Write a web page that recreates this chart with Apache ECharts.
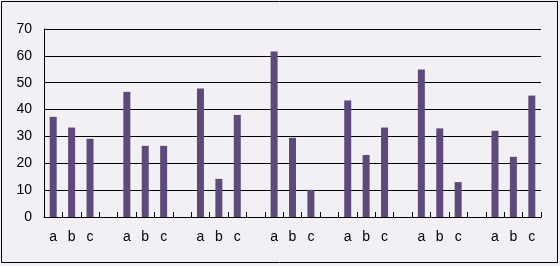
<!DOCTYPE html>
<html><head><meta charset="utf-8">
<script src="https://cdn.jsdelivr.net/npm/echarts@6/dist/echarts.min.js"></script>
<style>html,body{margin:0;padding:0;background:#fff}#c{width:560px;height:266px}</style>
</head><body><div id="c"></div>
<script>
const groupLabels = ['a','b','c'];
const g1 = [37.3, 33.3, 29.1];
const g2 = [46.6, 26.5, 26.5];
const g3 = [47.8, 14.2, 38.0];
const g4 = [61.6, 29.5, 10.1];
const g5 = [43.4, 23.1, 33.3];
const g6 = [54.9, 33.0, 13.0];
const g7 = [32.1, 22.4, 45.2];
const groups = [g1,g2,g3,g4,g5,g6,g7];

const categories = [];
const values = [];
groups.forEach((g,i)=>{
  g.forEach((v,j)=>{ categories.push(groupLabels[j] + '\u200b'.repeat(i)); values.push(v); });
  if (i < groups.length-1){ categories.push(' '.repeat(i+1)); values.push('-'); }
});

const chart = echarts.init(document.getElementById('c'));
chart.setOption({
  animation:false,
  backgroundColor:'#F2F0F4',
  graphic:[{type:'rect',shape:{x:1.5,y:1.5,width:556,height:261},style:{fill:'none',stroke:'#000',lineWidth:1}}],
  grid:{left:44,right:19,top:29,bottom:49,containLabel:false},
  xAxis:{type:'category',data:categories,
    axisLine:{lineStyle:{color:'#000',width:1}},
    axisTick:{show:true,inside:true,length:5,alignWithLabel:false,interval:0,lineStyle:{color:'#000'}},
    axisLabel:{interval:0,color:'#000',fontFamily:'Liberation Sans, Arial',fontSize:14,margin:13,
      formatter:v=>v.replace(/\u200b/g,'').trim()}
  },
  yAxis:{type:'value',min:0,max:70,interval:10,
    axisLine:{show:true,lineStyle:{color:'#000',width:1}},
    axisTick:{show:false},
    splitLine:{lineStyle:{color:'#000',width:1}},
    axisLabel:{color:'#000',fontFamily:'Liberation Sans, Arial',fontSize:14,margin:12}
  },
  series:[{type:'bar',data:values,barWidth:7,itemStyle:{color:'#5E4A7A'}}]
});
</script></body></html>
